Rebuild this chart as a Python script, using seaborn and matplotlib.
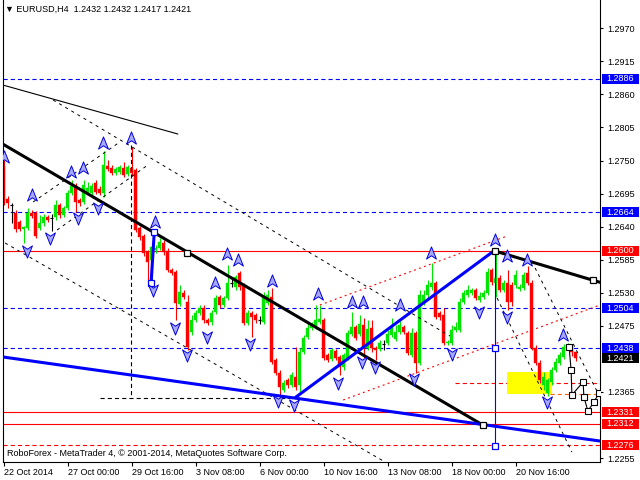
import matplotlib
matplotlib.use('Agg')
import matplotlib.pyplot as plt
import matplotlib.transforms as mtransforms
from matplotlib.patches import Rectangle
from matplotlib.path import Path
import numpy as np
import pandas as pd
import seaborn as sns

sns.set_style('white')
plt.rcParams['font.family'] = ['Liberation Sans', 'DejaVu Sans']
plt.rcParams['lines.scale_dashes'] = False

# EURUSD H4 candles, bar 0 = 22 Oct 2014
opens = [1.2739, 1.2686, 1.2676, 1.2663, 1.2648, 1.2636, 1.2638, 1.2663, 1.2663, 1.2638,
         1.2646, 1.2656, 1.2654, 1.2656, 1.2676, 1.2659, 1.2671, 1.2696, 1.2706, 1.2684,
         1.2681, 1.2696, 1.2696, 1.2713, 1.2703, 1.2696, 1.2741, 1.2738, 1.2729, 1.2731,
         1.2738, 1.2728, 1.2738, 1.2734, 1.2638, 1.2624, 1.2598, 1.2585, 1.2601, 1.2604,
         1.2613, 1.2599, 1.2568, 1.2565, 1.2511, 1.2530, 1.2515, 1.2465, 1.2485, 1.2496,
         1.2505, 1.2485, 1.2481, 1.2498, 1.2523, 1.2510, 1.2521, 1.2546, 1.2539, 1.2563,
         1.2543, 1.2480, 1.2496, 1.2493, 1.2485, 1.2481, 1.2513, 1.2523, 1.2418, 1.2396,
         1.2368, 1.2385, 1.2376, 1.2390, 1.2376, 1.2431, 1.2456, 1.2471, 1.2473, 1.2481,
         1.2485, 1.2426, 1.2420, 1.2433, 1.2423, 1.2406, 1.2421, 1.2461, 1.2473, 1.2461,
         1.2476, 1.2438, 1.2471, 1.2438, 1.2436, 1.2444, 1.2446, 1.2460, 1.2453, 1.2465,
         1.2473, 1.2463, 1.2426, 1.2463, 1.2413, 1.2513, 1.2526, 1.2539, 1.2546, 1.2496,
         1.2493, 1.2446, 1.2446, 1.2468, 1.2468, 1.2515, 1.2526, 1.2530, 1.2535, 1.2518,
         1.2523, 1.2530, 1.2568, 1.2546, 1.2554, 1.2535, 1.2546, 1.2543, 1.2543, 1.2536,
         1.2538, 1.2563, 1.2546, 1.2438, 1.2413, 1.2376, 1.2363, 1.2381, 1.2401, 1.2413,
         1.2423, 1.2438, 1.2440, 1.2432]
highs = [1.2751, 1.2691, 1.2680, 1.2668, 1.2651, 1.2641, 1.2671, 1.2668, 1.2666, 1.2659,
         1.2661, 1.2659, 1.2661, 1.2684, 1.2679, 1.2674, 1.2701, 1.2718, 1.2713, 1.2688,
         1.2718, 1.2714, 1.2713, 1.2718, 1.2708, 1.2766, 1.2751, 1.2743, 1.2739, 1.2743,
         1.2748, 1.2743, 1.2772, 1.2738, 1.2641, 1.2628, 1.2601, 1.2609, 1.2609, 1.2621,
         1.2618, 1.2604, 1.2571, 1.2568, 1.2543, 1.2535, 1.2527, 1.2493, 1.2501, 1.2510,
         1.2510, 1.2488, 1.2501, 1.2526, 1.2526, 1.2525, 1.2576, 1.2554, 1.2559, 1.2566,
         1.2546, 1.2501, 1.2500, 1.2496, 1.2491, 1.2531, 1.2535, 1.2538, 1.2421, 1.2401,
         1.2385, 1.2388, 1.2398, 1.2440, 1.2438, 1.2460, 1.2481, 1.2481, 1.2510, 1.2510,
         1.2488, 1.2430, 1.2438, 1.2436, 1.2426, 1.2430, 1.2468, 1.2498, 1.2476, 1.2493,
         1.2488, 1.2485, 1.2485, 1.2441, 1.2451, 1.2451, 1.2468, 1.2488, 1.2476, 1.2485,
         1.2476, 1.2466, 1.2471, 1.2466, 1.2535, 1.2535, 1.2551, 1.2580, 1.2550, 1.2500,
         1.2505, 1.2451, 1.2476, 1.2481, 1.2521, 1.2535, 1.2543, 1.2538, 1.2538, 1.2531,
         1.2535, 1.2571, 1.2571, 1.2599, 1.2559, 1.2551, 1.2568, 1.2548, 1.2568, 1.2545,
         1.2565, 1.2574, 1.2551, 1.2443, 1.2418, 1.2398, 1.2388, 1.2406, 1.2421, 1.2431,
         1.2445, 1.2446, 1.2443, 1.2432]
lows = [1.2676, 1.2671, 1.2646, 1.2631, 1.2633, 1.2613, 1.2634, 1.2654, 1.2621, 1.2634,
        1.2641, 1.2648, 1.2633, 1.2651, 1.2654, 1.2656, 1.2668, 1.2693, 1.2664, 1.2674,
        1.2678, 1.2693, 1.2693, 1.2694, 1.2693, 1.2689, 1.2733, 1.2726, 1.2726, 1.2728,
        1.2723, 1.2724, 1.2724, 1.2631, 1.2618, 1.2591, 1.2551, 1.2545, 1.2596, 1.2601,
        1.2593, 1.2565, 1.2560, 1.2485, 1.2508, 1.2520, 1.2435, 1.2460, 1.2481, 1.2493,
        1.2480, 1.2476, 1.2476, 1.2495, 1.2505, 1.2506, 1.2518, 1.2539, 1.2535, 1.2535,
        1.2476, 1.2476, 1.2456, 1.2480, 1.2478, 1.2478, 1.2510, 1.2411, 1.2393, 1.2355,
        1.2365, 1.2371, 1.2373, 1.2368, 1.2365, 1.2428, 1.2453, 1.2468, 1.2470, 1.2478,
        1.2418, 1.2415, 1.2416, 1.2418, 1.2393, 1.2401, 1.2418, 1.2458, 1.2451, 1.2458,
        1.2421, 1.2435, 1.2431, 1.2418, 1.2433, 1.2435, 1.2443, 1.2456, 1.2450, 1.2461,
        1.2461, 1.2426, 1.2423, 1.2396, 1.2410, 1.2510, 1.2521, 1.2535, 1.2486, 1.2485,
        1.2443, 1.2443, 1.2443, 1.2465, 1.2465, 1.2511, 1.2523, 1.2526, 1.2518, 1.2515,
        1.2520, 1.2526, 1.2543, 1.2523, 1.2531, 1.2531, 1.2501, 1.2508, 1.2538, 1.2533,
        1.2535, 1.2543, 1.2435, 1.2410, 1.2380, 1.2368, 1.2358, 1.2376, 1.2398, 1.2410,
        1.2420, 1.2435, 1.2425, 1.2417]
closes = [1.2681, 1.2679, 1.2676, 1.2636, 1.2636, 1.2639, 1.2663, 1.2658, 1.2624, 1.2646,
          1.2656, 1.2651, 1.2654, 1.2676, 1.2659, 1.2671, 1.2696, 1.2708, 1.2681, 1.2679,
          1.2709, 1.2704, 1.2708, 1.2698, 1.2696, 1.2743, 1.2736, 1.2729, 1.2736, 1.2739,
          1.2726, 1.2739, 1.2729, 1.2634, 1.2623, 1.2596, 1.2581, 1.2606, 1.2604, 1.2614,
          1.2598, 1.2568, 1.2563, 1.2513, 1.2531, 1.2523, 1.2440, 1.2485, 1.2496, 1.2505,
          1.2485, 1.2480, 1.2496, 1.2521, 1.2510, 1.2521, 1.2546, 1.2546, 1.2556, 1.2539,
          1.2480, 1.2496, 1.2490, 1.2485, 1.2485, 1.2523, 1.2526, 1.2415, 1.2396, 1.2373,
          1.2380, 1.2376, 1.2393, 1.2373, 1.2431, 1.2455, 1.2471, 1.2476, 1.2485, 1.2486,
          1.2421, 1.2418, 1.2435, 1.2421, 1.2406, 1.2426, 1.2463, 1.2473, 1.2455, 1.2478,
          1.2438, 1.2470, 1.2438, 1.2435, 1.2446, 1.2444, 1.2461, 1.2473, 1.2465, 1.2476,
          1.2465, 1.2430, 1.2463, 1.2413, 1.2526, 1.2526, 1.2543, 1.2546, 1.2490, 1.2490,
          1.2446, 1.2448, 1.2468, 1.2473, 1.2515, 1.2530, 1.2535, 1.2535, 1.2521, 1.2525,
          1.2530, 1.2565, 1.2548, 1.2554, 1.2535, 1.2546, 1.2515, 1.2515, 1.2559, 1.2539,
          1.2559, 1.2546, 1.2438, 1.2413, 1.2385, 1.2390, 1.2385, 1.2401, 1.2415, 1.2426,
          1.2440, 1.2443, 1.2431, 1.2421]

date_bars = [0, 16, 32, 48, 64, 80, 96, 112, 128]
date_labels = ['22 Oct 2014', '27 Oct 00:00', '29 Oct 16:00', '3 Nov 08:00', '6 Nov 00:00',
               '10 Nov 16:00', '13 Nov 08:00', '18 Nov 00:00', '20 Nov 16:00']
price_ticks = [1.2970, 1.2915, 1.2860, 1.2805, 1.2750, 1.2695, 1.2640,
               1.2585, 1.2530, 1.2475, 1.2365, 1.2255]

levels = [1.2886, 1.2664, 1.2600, 1.2504, 1.2438, 1.2331, 1.2312, 1.2276]
level_colors = ['#0000ff', '#0000ff', '#ff0000', '#0000ff', '#0000ff', '#ff0000', '#ff0000', '#ff0000']
level_dashed = [True, True, False, True, True, False, False, True]
last_price = 1.2421

# trend lines: (bar0, price0, bar1, price1)
thick_black = [(-0.2, 1.27775, 119.8, 1.2310), (122.9, 1.25994, 149.1, 1.25474)]
thick_blue = [(-0.1, 1.24231, 149.1, 1.22833), (72.9, 1.23554, 122.9, 1.26011),
              (37.7, 1.26316, 36.9, 1.25467)]
thin_black = [(-0.2, 1.28757, 43.6, 1.27941)]
dotted_black = [(0.4, 1.26128, 95.4, 1.22484), (12.4, 1.28507, 111.6, 1.24580),
                (7.4, 1.26810, 29.1, 1.27809), (13.4, 1.26344, 36.1, 1.27426),
                (123.4, 1.25212, 142.1, 1.22650), (132.9, 1.25712, 149.1, 1.23566)]
dotted_red = [(79.1, 1.25096, 125.9, 1.26244), (84.9, 1.23515, 149.1, 1.25096)]
black_squares_k = [45.8, 119.8, 122.9, 147.3]
black_squares_p = [1.25966, 1.2310, 1.25994, 1.25512]
blue_squares_k = [122.9, 122.9, 37.7, 36.9]
blue_squares_p = [1.24385, 1.22750, 1.26316, 1.25467]

# fractal arrows
up_k = [0.1, 7.1, 16.9, 19.9, 24.9, 31.9, 37.9, 52.9, 55.9, 58.6, 67.1, 78.6, 87.1,
        89.9, 99.1, 106.9, 122.9, 125.9, 130.9, 139.9]
up_p = [1.27559, 1.26927, 1.27309, 1.27376, 1.27792, 1.27875, 1.26477, 1.25462, 1.25944,
        1.25845, 1.25495, 1.25279, 1.25146, 1.25146, 1.25096, 1.25961, 1.26178, 1.25911,
        1.25845, 1.24597]
down_k = [5.9, 11.6, 18.6, 23.6, 37.4, 42.9, 45.9, 50.9, 61.6, 68.6, 72.6, 83.6, 89.6,
          92.9, 102.6, 112.1, 118.9, 125.9, 135.9]
down_p = [1.25994, 1.26211, 1.26543, 1.26710, 1.25346, 1.24713, 1.24264, 1.24564, 1.24447,
          1.23498, 1.23432, 1.23798, 1.24148, 1.24065, 1.23865, 1.24280, 1.24980, 1.24897,
          1.23482]

# forecast path
fc_k = [141.4, 141.9, 142.1, 144.9, 145.1, 146.1, 147.6, 148.9]
fc_p = [1.24398, 1.24015, 1.23599, 1.23815, 1.23566, 1.23332, 1.23482, 1.23632]

fig = plt.figure(figsize=(6.4, 4.8), dpi=100)
ax = fig.add_axes([3 / 640, 18 / 480, 597 / 640, 462 / 480])
ax.set_xlim(-0.125, 149.125)
ax.set_ylim(1.22484, 1.30171)

df = pd.DataFrame({'o': opens, 'h': highs, 'l': lows, 'c': closes})
df['k'] = np.arange(len(df))
df['col'] = np.where(df.c > df.o, '#00e600', np.where(df.c < df.o, '#ff0000', '#000000'))

# yellow zone under candles
ax.add_patch(Rectangle((125.8, 1.23615), 11.2, 0.00372, facecolor='#ffff00', edgecolor='none', zorder=1.5))

ax.vlines(df.k, df.l, df.h, colors=df.col, lw=0.8, zorder=2)
body = df[df.c != df.o]
ax.bar(body.k, body.c - body.o, bottom=body.o, width=0.7, color=body.col,
       edgecolor=body.col, linewidth=0.3, zorder=2.5)
doji = df[df.c == df.o]
ax.hlines(doji.o, doji.k - 0.4, doji.k + 0.4, colors='black', lw=0.8, zorder=2.5)

for p, c, d in zip(levels, level_colors, level_dashed):
    ax.axhline(p, color=c, lw=0.8, ls=(0, (3, 2.2)) if d else '-', zorder=1)

ax.plot([112.9, 149.1], [1.23793, 1.23793], color='#ff0000', lw=0.8, ls=(0, (3, 2.2)), zorder=1)
ax.plot([136.6, 149.1], [1.23615, 1.23615], color='#ff6600', lw=0.8, ls=(0, (3, 2.2)), zorder=1)
ax.plot([24.1, 74.1], [1.23556, 1.23556], color='black', lw=0.8, ls=(0, (3, 2.2)), zorder=1)
ax.plot([31.9, 31.9], [1.27759, 1.23566], color='black', lw=0.8, ls=(0, (3, 2.2)), zorder=3)
ax.plot([122.9, 122.9], [1.26011, 1.22750], color='#0000ff', lw=0.8, zorder=3)

for k0, p0, k1, p1 in dotted_black:
    ax.plot([k0, k1], [p0, p1], color='black', lw=0.7, ls=(0, (2.2, 2.9)), zorder=3)
for k0, p0, k1, p1 in dotted_red:
    ax.plot([k0, k1], [p0, p1], color='#ff0000', lw=0.8, ls=(0, (1.4, 2.4)), zorder=3)
for k0, p0, k1, p1 in thin_black:
    ax.plot([k0, k1], [p0, p1], color='black', lw=0.8, zorder=3)
for k0, p0, k1, p1 in thick_black:
    ax.plot([k0, k1], [p0, p1], color='black', lw=2.2, zorder=3.5)
for k0, p0, k1, p1 in thick_blue:
    ax.plot([k0, k1], [p0, p1], color='#0000ff', lw=2.2, zorder=3.5)

ax.plot(black_squares_k, black_squares_p, 's', ms=4.5, mfc='white', mec='black', mew=0.9, zorder=4)
ax.plot(blue_squares_k, blue_squares_p, 's', ms=4.0, mfc='white', mec='#0000ff', mew=0.9, zorder=4)

up_arrow = Path([(0, 1), (0.75, -0.85), (0, -0.35), (-0.75, -0.85), (0, 1)],
                [Path.MOVETO, Path.LINETO, Path.LINETO, Path.LINETO, Path.CLOSEPOLY])
down_arrow = Path([(0, -1), (0.75, 0.85), (0, 0.35), (-0.75, 0.85), (0, -1)],
                  [Path.MOVETO, Path.LINETO, Path.LINETO, Path.LINETO, Path.CLOSEPOLY])
ax.scatter(up_k, up_p, marker=up_arrow, s=90, c='#a8a8ff', edgecolors='#0000dd', linewidths=0.7, zorder=5)
ax.scatter(down_k, down_p, marker=down_arrow, s=90, c='#a8a8ff', edgecolors='#0000dd', linewidths=0.7, zorder=5)

sns.lineplot(x=fc_k, y=fc_p, ax=ax, color='black', lw=0.8, marker='s', markersize=4.5,
             markerfacecolor='white', markeredgecolor='black', markeredgewidth=0.8,
             sort=False, zorder=6)

# axes styling
for s in ['left', 'right', 'bottom']:
    ax.spines[s].set_color('black')
    ax.spines[s].set_linewidth(0.8)
ax.spines['top'].set_visible(False)
ax.yaxis.tick_right()
ax.set_yticks(price_ticks)
ax.set_yticklabels(['%.4f' % v for v in price_ticks])
ax.set_xticks(date_bars)
ax.set_xticklabels(date_labels, ha='left')
ax.tick_params(axis='y', right=True, left=False, direction='out', length=2.5, width=0.8,
               pad=2.5, labelsize=6.5, colors='black')
ax.tick_params(axis='x', bottom=True, direction='out', length=3, width=0.8, pad=1.5,
               labelsize=6.5, colors='black')
ax.set_xlabel('')
ax.set_ylabel('')

# coloured price labels on the scale
trans = mtransforms.blended_transform_factory(ax.transAxes, ax.transData)
box_h = 10 / 6010
for p, c in list(zip(levels, level_colors)) + [(last_price, '#000000')]:
    ax.add_patch(Rectangle((1 + 1.5 / 597, p - box_h / 2), 37 / 597, box_h, transform=trans,
                           facecolor=c, edgecolor='none', clip_on=False, zorder=7))
    ax.text(1 + 6.5 / 597, p, '%.4f' % p, transform=trans, color='white', fontsize=6.5,
            va='center', ha='left', zorder=8, clip_on=False)

fig.text(5 / 640, 1 - 9 / 480, '\u25bc EURUSD,H4  1.2432 1.2432 1.2417 1.2421', fontsize=6.5,
         va='center', ha='left', color='black')
fig.text(7 / 640, 1 - 453 / 480, 'RoboForex - MetaTrader 4, \u00a9 2001-2014, MetaQuotes Software Corp.',
         fontsize=6.5, va='center', ha='left', color='black')

fig.savefig('out.png', dpi=100)
